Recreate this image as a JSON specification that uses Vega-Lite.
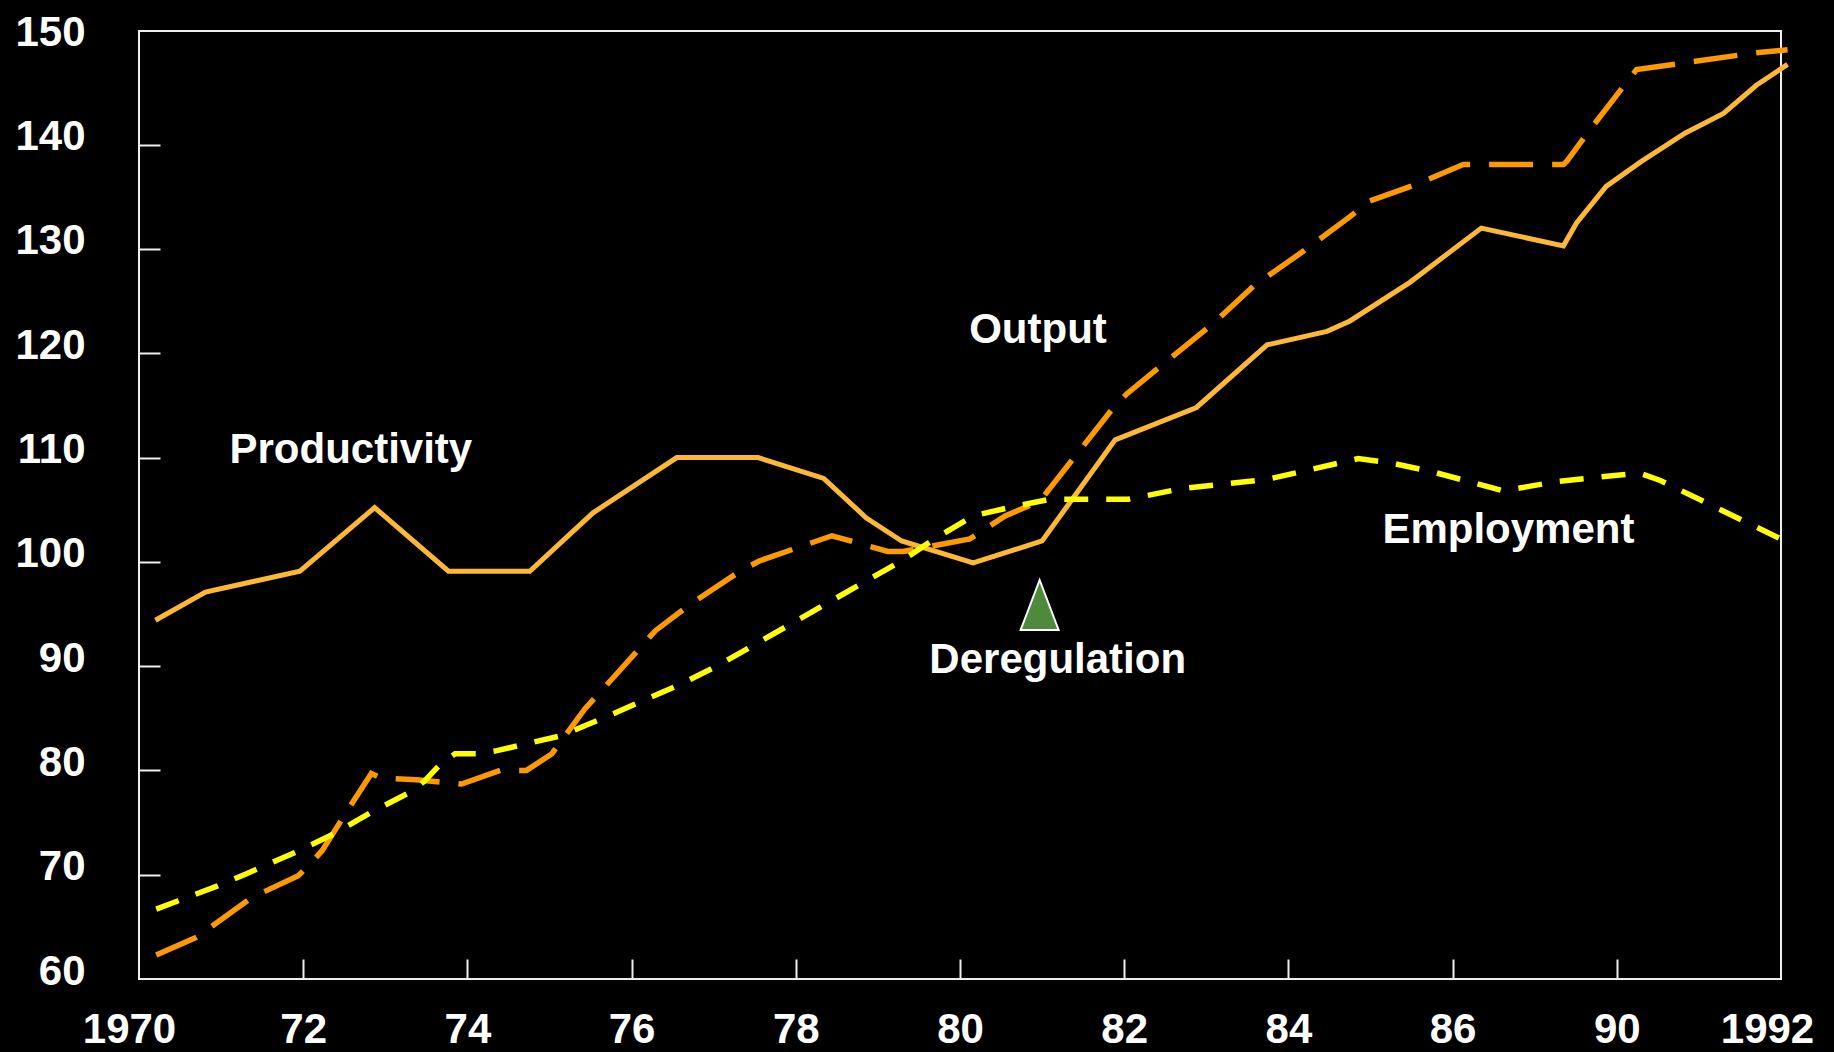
{
  "$schema": "https://vega.github.io/schema/vega-lite/v6.json",
  "autosize": {"type": "none"},
  "padding": {"left": 139, "top": 31, "right": 53, "bottom": 73},
  "width": 1642,
  "height": 948,
  "background": "#000000",
  "config": {
    "view": {"stroke": "#eeeeee", "strokeWidth": 2},
    "font": "Liberation Sans"
  },
  "datasets": {
    "lines": [
      {"series": "Productivity", "year": 1970.2, "value": 94.4},
      {"series": "Productivity", "year": 1970.81, "value": 97.1},
      {"series": "Productivity", "year": 1971.96, "value": 99.1},
      {"series": "Productivity", "year": 1972.87, "value": 105.2},
      {"series": "Productivity", "year": 1973.77, "value": 99.1},
      {"series": "Productivity", "year": 1974.76, "value": 99.1},
      {"series": "Productivity", "year": 1975.53, "value": 104.7},
      {"series": "Productivity", "year": 1976.55, "value": 110.0},
      {"series": "Productivity", "year": 1977.54, "value": 110.0},
      {"series": "Productivity", "year": 1978.34, "value": 108.0},
      {"series": "Productivity", "year": 1978.86, "value": 104.2},
      {"series": "Productivity", "year": 1979.29, "value": 102.0},
      {"series": "Productivity", "year": 1980.16, "value": 99.9},
      {"series": "Productivity", "year": 1981.0, "value": 102.0},
      {"series": "Productivity", "year": 1981.89, "value": 111.7},
      {"series": "Productivity", "year": 1982.88, "value": 114.8},
      {"series": "Productivity", "year": 1983.74, "value": 120.8},
      {"series": "Productivity", "year": 1984.47, "value": 122.1},
      {"series": "Productivity", "year": 1984.75, "value": 123.1},
      {"series": "Productivity", "year": 1985.48, "value": 126.8},
      {"series": "Productivity", "year": 1986.35, "value": 132.0},
      {"series": "Productivity", "year": 1987.35, "value": 130.3},
      {"series": "Productivity", "year": 1987.51, "value": 132.5},
      {"series": "Productivity", "year": 1987.87, "value": 136.0},
      {"series": "Productivity", "year": 1988.3, "value": 138.4},
      {"series": "Productivity", "year": 1988.83, "value": 141.1},
      {"series": "Productivity", "year": 1989.3, "value": 143.0},
      {"series": "Productivity", "year": 1989.7, "value": 145.7},
      {"series": "Productivity", "year": 1990.08, "value": 147.7},
      {"series": "Output", "year": 1970.21, "value": 62.3},
      {"series": "Output", "year": 1970.7, "value": 64.0},
      {"series": "Output", "year": 1971.37, "value": 67.8},
      {"series": "Output", "year": 1971.94, "value": 69.9},
      {"series": "Output", "year": 1972.08, "value": 71.0},
      {"series": "Output", "year": 1972.23, "value": 72.3},
      {"series": "Output", "year": 1972.55, "value": 76.3},
      {"series": "Output", "year": 1972.83, "value": 79.7},
      {"series": "Output", "year": 1972.97, "value": 79.2},
      {"series": "Output", "year": 1973.12, "value": 79.2},
      {"series": "Output", "year": 1973.38, "value": 79.1},
      {"series": "Output", "year": 1973.93, "value": 78.7},
      {"series": "Output", "year": 1974.4, "value": 80.0},
      {"series": "Output", "year": 1974.72, "value": 80.0},
      {"series": "Output", "year": 1975.03, "value": 81.6},
      {"series": "Output", "year": 1975.43, "value": 85.9},
      {"series": "Output", "year": 1975.8, "value": 89.1},
      {"series": "Output", "year": 1976.29, "value": 93.4},
      {"series": "Output", "year": 1976.71, "value": 95.9},
      {"series": "Output", "year": 1977.32, "value": 99.1},
      {"series": "Output", "year": 1977.56, "value": 100.1},
      {"series": "Output", "year": 1978.44, "value": 102.5},
      {"series": "Output", "year": 1979.12, "value": 101.0},
      {"series": "Output", "year": 1979.31, "value": 101.0},
      {"series": "Output", "year": 1980.12, "value": 102.2},
      {"series": "Output", "year": 1980.55, "value": 104.4},
      {"series": "Output", "year": 1980.97, "value": 105.8},
      {"series": "Output", "year": 1981.85, "value": 114.6},
      {"series": "Output", "year": 1982.03, "value": 116.1},
      {"series": "Output", "year": 1983.09, "value": 122.9},
      {"series": "Output", "year": 1983.57, "value": 126.4},
      {"series": "Output", "year": 1984.22, "value": 130.0},
      {"series": "Output", "year": 1984.75, "value": 133.1},
      {"series": "Output", "year": 1984.99, "value": 134.6},
      {"series": "Output", "year": 1985.56, "value": 136.2},
      {"series": "Output", "year": 1986.13, "value": 138.1},
      {"series": "Output", "year": 1987.35, "value": 138.1},
      {"series": "Output", "year": 1987.39, "value": 138.4},
      {"series": "Output", "year": 1987.67, "value": 141.4},
      {"series": "Output", "year": 1988.24, "value": 147.2},
      {"series": "Output", "year": 1989.68, "value": 148.8},
      {"series": "Output", "year": 1990.08, "value": 149.1},
      {"series": "Employment", "year": 1970.21, "value": 66.7},
      {"series": "Employment", "year": 1970.48, "value": 67.5},
      {"series": "Employment", "year": 1970.95, "value": 68.9},
      {"series": "Employment", "year": 1971.31, "value": 70.1},
      {"series": "Employment", "year": 1971.92, "value": 72.2},
      {"series": "Employment", "year": 1972.37, "value": 73.9},
      {"series": "Employment", "year": 1972.83, "value": 76.0},
      {"series": "Employment", "year": 1973.3, "value": 77.9},
      {"series": "Employment", "year": 1973.48, "value": 79.0},
      {"series": "Employment", "year": 1973.67, "value": 80.6},
      {"series": "Employment", "year": 1973.85, "value": 81.6},
      {"series": "Employment", "year": 1974.13, "value": 81.6},
      {"series": "Employment", "year": 1974.36, "value": 81.9},
      {"series": "Employment", "year": 1975.13, "value": 83.3},
      {"series": "Employment", "year": 1975.62, "value": 84.9},
      {"series": "Employment", "year": 1976.55, "value": 88.1},
      {"series": "Employment", "year": 1977.04, "value": 90.0},
      {"series": "Employment", "year": 1978.82, "value": 98.0},
      {"series": "Employment", "year": 1979.29, "value": 100.1},
      {"series": "Employment", "year": 1979.71, "value": 102.3},
      {"series": "Employment", "year": 1980.16, "value": 104.4},
      {"series": "Employment", "year": 1980.65, "value": 105.3},
      {"series": "Employment", "year": 1981.1, "value": 106.0},
      {"series": "Employment", "year": 1982.05, "value": 106.0},
      {"series": "Employment", "year": 1982.68, "value": 107.0},
      {"series": "Employment", "year": 1983.74, "value": 107.9},
      {"series": "Employment", "year": 1984.85, "value": 109.9},
      {"series": "Employment", "year": 1985.24, "value": 109.5},
      {"series": "Employment", "year": 1985.77, "value": 108.6},
      {"series": "Employment", "year": 1986.62, "value": 106.8},
      {"series": "Employment", "year": 1987.27, "value": 107.7},
      {"series": "Employment", "year": 1987.75, "value": 108.1},
      {"series": "Employment", "year": 1988.28, "value": 108.5},
      {"series": "Employment", "year": 1988.53, "value": 107.8},
      {"series": "Employment", "year": 1990.05, "value": 102.0}
    ],
    "notes": [
      {"label": "Productivity", "year": 1972.58, "value": 109.5},
      {"label": "Output", "year": 1980.95, "value": 121.0},
      {"label": "Employment", "year": 1986.68, "value": 101.8},
      {"label": "Deregulation", "year": 1981.19, "value": 89.3}
    ],
    "marker": [
      {"event": "Deregulation", "year": 1980.97, "value": 95.86}
    ]
  },
  "encoding": {
    "x": {
      "field": "year",
      "type": "quantitative",
      "scale": {"domain": [1970, 1990], "nice": false, "zero": false},
      "axis": {
        "title": null,
        "grid": false,
        "domain": false,
        "values": [1970, 1972, 1974, 1976, 1978, 1980, 1982, 1984, 1986, 1988, 1990],
        "labelExpr": "datum.value == 1970 ? '1970' : datum.value == 1990 ? '1992' : datum.value == 1988 ? '90' : substring(toString(datum.value), 2)",
        "labelFont": "Liberation Sans",
        "labelFontWeight": "bold",
        "labelFontSize": 42,
        "labelColor": "#ffffff",
        "labelPadding": 50,
        "labelFlush": false,
        "labelOverlap": false,
        "labelOffset": {"condition": [{"test": "datum.value == 1970", "value": -10}, {"test": "datum.value == 1990", "value": -14}], "value": 0},
        "tickSize": -20,
        "tickWidth": 2,
        "tickColor": "#eeeeee",
        "tickOpacity": {"condition": {"test": "datum.value == 1970 || datum.value == 1990", "value": 0}, "value": 1}
      }
    },
    "y": {
      "field": "value",
      "type": "quantitative",
      "scale": {"domain": [60, 150.9], "nice": false, "zero": false},
      "axis": {
        "title": null,
        "grid": false,
        "domain": false,
        "values": [60, 70, 80, 90, 100, 110, 120, 130, 140, 150],
        "labelFont": "Liberation Sans",
        "labelFontWeight": "bold",
        "labelFontSize": 42,
        "labelColor": "#ffffff",
        "labelPadding": 75,
        "labelOffset": -8,
        "labelOverlap": false,
        "labelFlush": false,
        "tickSize": -21,
        "tickWidth": 2,
        "tickColor": "#eeeeee",
        "tickOpacity": {"condition": {"test": "datum.value == 60 || datum.value == 150", "value": 0}, "value": 1}
      }
    }
  },
  "layer": [
    {
      "data": {"name": "lines"},
      "transform": [{"filter": "datum.series == 'Productivity'"}],
      "mark": {"type": "line", "color": "#ffb833", "strokeWidth": 5, "strokeCap": "butt", "strokeJoin": "miter", "clip": false},
      "encoding": {}
    },
    {
      "data": {"name": "lines"},
      "transform": [{"filter": "datum.series == 'Output'"}],
      "mark": {"type": "line", "color": "#ff9900", "strokeWidth": 5.5, "strokeDash": [44, 19], "strokeCap": "butt", "strokeJoin": "miter", "clip": false},
      "encoding": {}
    },
    {
      "data": {"name": "lines"},
      "transform": [{"filter": "datum.series == 'Employment'"}],
      "mark": {"type": "line", "color": "#ffff00", "strokeWidth": 5.5, "strokeDash": [24, 18], "strokeCap": "butt", "strokeJoin": "miter", "clip": false},
      "encoding": {}
    },
    {
      "data": {"name": "marker"},
      "mark": {"type": "point", "shape": "M0,-1L-0.76,1L0.76,1Z", "size": 2500, "filled": true, "fill": "#4e8a3a", "stroke": "#ffffff", "strokeWidth": 2, "opacity": 1}
    },
    {
      "data": {"name": "notes"},
      "mark": {"type": "text", "font": "Liberation Sans", "fontWeight": "bold", "fontSize": 42, "color": "#ffffff", "align": "center", "baseline": "alphabetic"},
      "encoding": {"text": {"field": "label", "type": "nominal"}}
    }
  ]
}
